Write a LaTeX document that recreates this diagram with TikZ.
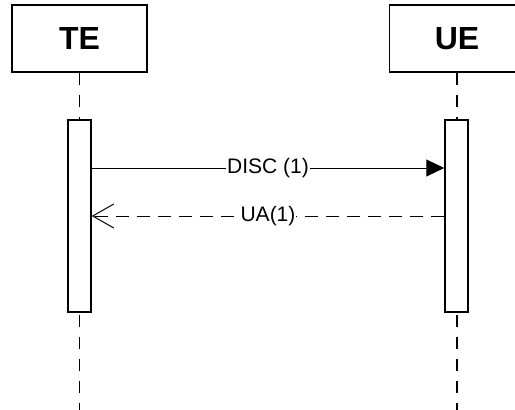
\documentclass[tikz,border=0pt]{standalone}
\usepackage{fontspec}
\setmainfont{Liberation Sans}
\usetikzlibrary{arrows.meta,positioning}

\begin{document}
\begin{tikzpicture}[x=1pt,y=-1pt,
     actor/.style={draw, line width=1.8pt, minimum width=135pt, minimum height=67pt,
                   font=\fontsize{32}{36}\selectfont\bfseries},
     life/.style={line width=1.5pt, dash pattern=on 12pt off 10pt},
     act/.style={draw, line width=1.5pt, fill=white, minimum width=23pt,
                 minimum height=192pt, inner sep=0pt},
     msg/.style={line width=1pt},
     lbl/.style={fill=white, inner sep=1pt, font=\fontsize{21}{24}\selectfont}]
     \useasboundingbox (0,0) rectangle (515,410);
     \node[actor] (te) at (79.5,38.5) {TE};
     \node[actor] (ue) at (457,38.5) {UE};
     \coordinate (teEnd) at (79.5,412);
     \coordinate (ueEnd) at (457,412);
     \draw[life] (te.south) -- (teEnd);
     \draw[life] (ue.south) -- (ueEnd);
     \node[act] (teA) at (79.5,216) {};
     \node[act] (ueA) at (456.5,216) {};
     % messages
     \draw[msg, -{Triangle[length=18pt,width=17pt]}] (teA.east |- 0,168) -- node[lbl] {DISC (1)} (ueA.west |- 0,168);
     \draw[msg, dash pattern=on 13pt off 8pt, -{Straight Barb[length=21pt,width=24pt,line width=1pt]}]
          (ueA.west |- 0,216) -- node[lbl] {UA(1)} (teA.east |- 0,216);
  \end{tikzpicture}
\end{document}
